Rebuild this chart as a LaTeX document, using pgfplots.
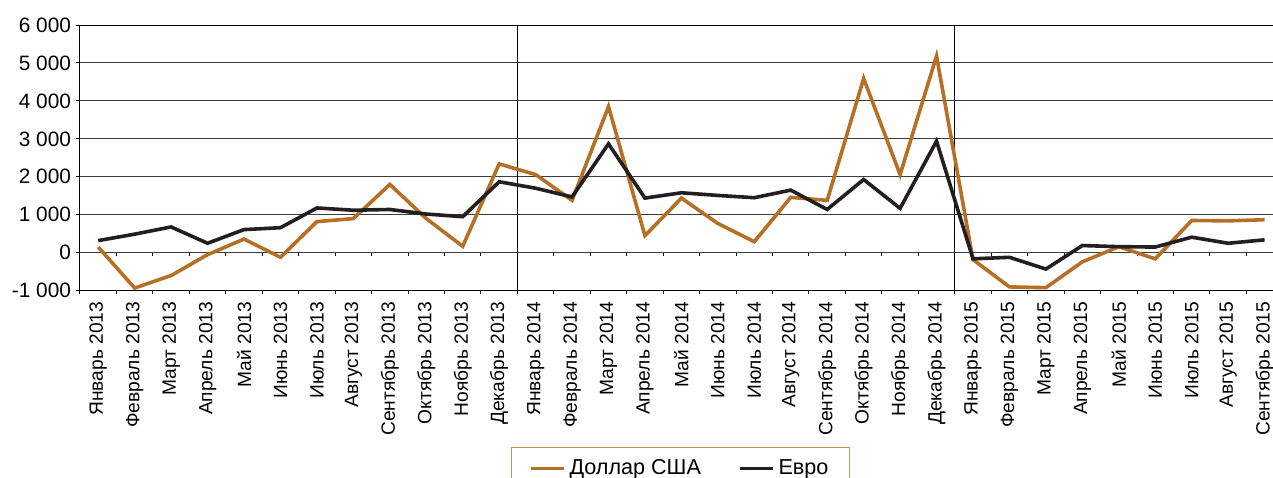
\documentclass[border=0pt]{standalone}
\usepackage{fontspec}
\setmainfont{Liberation Sans}
\usepackage{pgfplots}
\usepackage{pgfplotstable}
\pgfplotsset{compat=1.18}

\definecolor{usd}{RGB}{181,112,38}
\definecolor{eur}{RGB}{35,31,32}
\definecolor{gridc}{RGB}{60,60,60}
\definecolor{legframe}{RGB}{196,146,92}

% monthly values, Jan 2013 .. Sep 2015
\pgfplotstableread{
x  usd   eur
0  150   320
1  -930  490
2  -600  680
3  -50   250
4  360   610
5  -120  660
6  820   1180
7  900   1120
8  1800  1140
9  900   1020
10 170   950
11 2340  1870
12 2060  1700
13 1380  1470
14 3850  2870
15 450   1440
16 1440  1580
17 770   1510
18 290   1450
19 1460  1650
20 1380  1140
21 4590  1930
22 2060  1170
23 5180  2940
24 -180  -160
25 -900  -120
26 -920  -430
27 -240  190
28 160   160
29 -160  150
30 850   410
31 840   250
32 870   340
}\rates

\begin{document}
\begin{tikzpicture}
\begin{axis}[
  scale only axis,
  width=601.4pt, height=132.85pt,
  at={(40pt,93.15pt)}, anchor=south west,
  xmin=-0.5, xmax=32.5,
  ymin=-1000, ymax=6000,
  ytick={-1000,0,...,6000},
  xtick={0,...,32},
  xticklabels={Январь 2013,Февраль 2013,Март 2013,Апрель 2013,Май 2013,Июнь 2013,Июль 2013,Август 2013,Сентябрь 2013,Октябрь 2013,Ноябрь 2013,Декабрь 2013,
    Январь 2014,Февраль 2014,Март 2014,Апрель 2014,Май 2014,Июнь 2014,Июль 2014,Август 2014,Сентябрь 2014,Октябрь 2014,Ноябрь 2014,Декабрь 2014,
    Январь 2015,Февраль 2015,Март 2015,Апрель 2015,Май 2015,Июнь 2015,Июль 2015,Август 2015,Сентябрь 2015},
  minor xtick={-0.5,0.5,...,32.5},
  every major x tick/.append style={draw=none},
  major tick length=2pt, minor tick length=1.75pt,
  tick align=outside, xtick pos=bottom, ytick pos=left,
  ymajorgrids, grid style={gridc, line width=0.5pt},
  axis line style={line width=0.5pt},
  tick style={black, line width=0.5pt},
  x tick label style={rotate=90, anchor=east, font=\fontsize{9.6}{11}\selectfont},
  y tick label style={font=\fontsize{10.4}{12}\selectfont, xshift=1pt},
  /pgf/number format/assume math mode=true,
  /pgf/number format/1000 sep={\ },
  legend style={at={(0.4994,-0.588)}, anchor=north, legend columns=-1,
    draw=legframe, line width=0.5pt, font=\fontsize{10.8}{13}\selectfont,
    inner xsep=8.5pt, inner ysep=4pt,
    /tikz/every even column/.append style={column sep=16.5pt}},
  legend image code/.code={\draw[#1, line width=1.8pt] (0pt,0pt) -- (16.5pt,0pt);},
]
% year separators
\draw[black, line width=0.5pt] (axis cs:11.5,-1000) -- (axis cs:11.5,6000);
\draw[black, line width=0.5pt] (axis cs:23.5,-1000) -- (axis cs:23.5,6000);
% tick marks hanging from the zero line
\pgfplotsinvokeforeach{-0.5,0.5,...,31.5}{\draw[black, line width=0.5pt] (axis cs:#1,0) -- ++(0pt,-1.75pt);}

\addplot[usd, line width=1.8pt] table[x=x, y=usd] {\rates};
\addlegendentry{Доллар США}
\addplot[eur, line width=1.8pt] table[x=x, y=eur] {\rates};
\addlegendentry{Евро}
\end{axis}
\pgfresetboundingbox
\path[use as bounding box] (0,0) rectangle (636.5pt,238.5pt);
\end{tikzpicture}
\end{document}
